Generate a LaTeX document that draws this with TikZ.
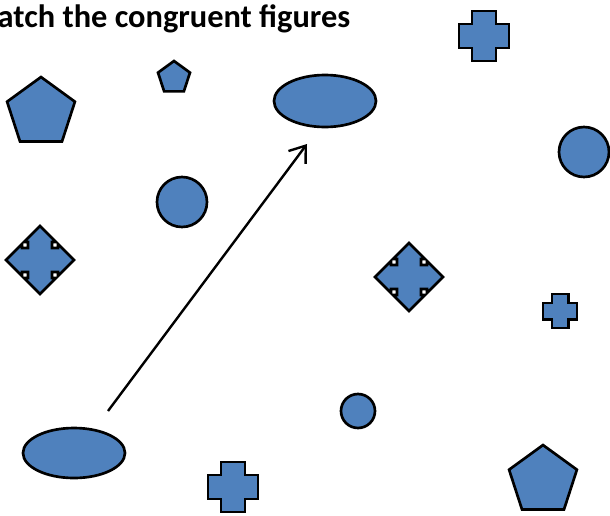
\documentclass[tikz,border=0pt]{standalone}
\usepackage{fontspec}
\setmainfont{Carlito}
\usetikzlibrary{shapes.geometric,arrows.meta}
\definecolor{shapeblue}{RGB}{79,129,189}

\begin{document}
\begin{tikzpicture}[x=0.75pt,y=-0.75pt,
  fig/.style={draw=black, fill=shapeblue, line width=2pt, inner sep=0pt},
  penta/.style={fig, regular polygon, regular polygon sides=5},
  oval/.style={fig, ellipse, minimum width=76.5pt},
  ball/.style={fig, circle},
  plus/.pic={\draw[fig] (-12,-25) -- (12,-25) -- (12,-12) -- (25,-12) -- (25,12) -- (12,12)
    -- (12,25) -- (-12,25) -- (-12,12) -- (-25,12) -- (-25,-12) -- (-12,-12) -- cycle;},
  quad/.pic={\draw[fig] (0,-34) -- (16,-18) -- (12,-18) -- (12,-12) -- (18,-12) -- (18,-16)
    -- (34,0) -- (18,16) -- (18,12) -- (12,12) -- (12,18) -- (16,18)
    -- (0,34) -- (-16,18) -- (-12,18) -- (-12,12) -- (-18,12) -- (-18,16)
    -- (-34,0) -- (-18,-16) -- (-18,-12) -- (-12,-12) -- (-12,-18) -- (-16,-18) -- cycle;}]
\useasboundingbox (0,0) rectangle (610,515);

% title, cut at the left edge
\node[anchor=base east, font=\bfseries\fontsize{24.3}{28}\selectfont] (title) at (355,27) {Match the congruent figures};

% pentagons
\node[penta, minimum size=53.5pt] (pentaA) at (41,112.7) {};
\node[penta, minimum size=25.2pt] (pentaB) at (174,77.8) {};
\node[penta, minimum size=53.5pt] (pentaC) at (543,480.7) {};

% ovals
\node[oval, minimum height=39pt] (ovalA) at (325,101) {};
\node[oval, minimum height=37.5pt] (ovalB) at (74,453) {};

% circles
\node[ball, minimum size=37.5pt] (ballA) at (584,152) {};
\node[ball, minimum size=37.5pt] (ballB) at (182,202) {};
\node[ball, minimum size=25.5pt] (ballC) at (358,411) {};

% crosses
\pic (crossA) at (484,36) {plus};
\pic (crossB) at (233,487) {plus};
\pic[scale=0.68] (crossC) at (560,311) {plus};

% four-way arrows
\pic (quadA) at (40,260) {quad};
\pic (quadB) at (409,277) {quad};

% the matching arrow
\coordinate (tail) at (108,411);
\coordinate (tip) at (307,144);
\draw[line width=1.8pt, -{Straight Barb[length=11pt,width=16pt]}] (tail) -- (tip);
\end{tikzpicture}
\end{document}
